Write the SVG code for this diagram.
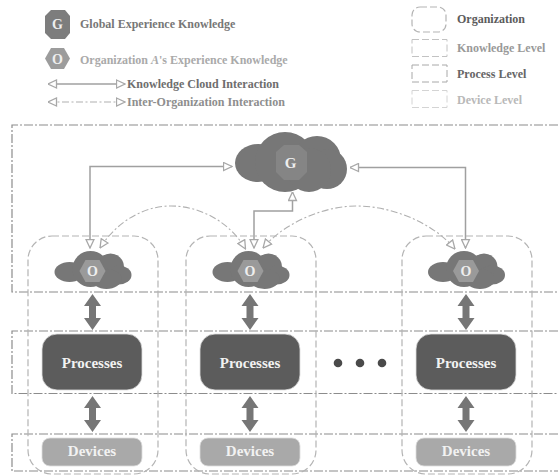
<svg xmlns="http://www.w3.org/2000/svg" width="558" height="475" viewBox="0 0 558 475">
<style>
text{font-family:"Liberation Serif","Times New Roman",serif;font-weight:bold}
.leg{font-size:12px}
.lab{font-size:15px;fill:#f2f2f2;text-anchor:middle}
.sym{font-size:14px;fill:#eee;text-anchor:middle}
.lvl{fill:none;stroke:#8c8c8c;stroke-width:1.2;stroke-dasharray:9 2 2 2}
.org{fill:none;stroke:#b4b4b4;stroke-width:1.2;stroke-dasharray:7 3}
.kc{fill:none;stroke:#a0a0a0;stroke-width:1.5}
.io{fill:none;stroke:#b0b0b0;stroke-width:1.1;stroke-dasharray:7 2.5 2 2.5}
.cl{fill:#777}
.proc{fill:#5c5c5c;stroke:#ddd;stroke-width:.8}
.dev{fill:#a9a9a9;stroke:#ddd;stroke-width:.8}
.dbl{fill:#767676}
</style>
<defs>
<marker id="ah" viewBox="0 0 10 10" refX="9.500" refY="5" markerWidth="10" markerHeight="10" markerUnits="userSpaceOnUse" orient="auto-start-reverse"><path d="M1 1L9.500 5L1 9Z" fill="#fff" stroke="#a8a8a8" stroke-width="1.3"/></marker>
<g id="smallcloud">
<ellipse class="cl" cx="-23" cy="1" rx="15" ry="10"/><circle class="cl" cx="-2" cy="-2" r="18"/><circle class="cl" cx="18" cy="-4" r="13.500"/><ellipse class="cl" cx="26" cy="4" rx="13" ry="9.500"/><ellipse class="cl" cx="14" cy="8" rx="15" ry="10"/>
<path d="M-13 0L-7-11H7L13 0L7 11H-7Z" fill="#9a9a9a"/>
</g>
<path id="dbl" d="M0 0L8.500 12H3.500V24H8.500L0 36L-8.500 24H-3.500V12H-8.500Z"/>
</defs>
<g id="levels">
<path class="lvl" d="M558 125H12V292H558"/>
<path class="lvl" d="M558 331H12V393.500H558"/>
<path class="lvl" d="M558 434H12V471H558"/>
</g>
<g id="legend">
<g id="legend-g"><path d="M51 10H65L70 16V33L65 39H51L45 33V16Z" fill="#7d7d7d"/><text class="sym" x="57.500" y="29">G</text></g>
<text class="leg" x="80" y="28" fill="#777">Global Experience Knowledge</text>
<g id="legend-o"><path d="M45 58.500L51 48H64L70 58.500L64 69H51Z" fill="#9c9c9c"/><text class="sym" x="57.500" y="63.500">O</text></g>
<text class="leg" x="80" y="64" fill="#aaa">Organization <tspan font-style="italic">A</tspan>'s Experience Knowledge</text>
<path class="kc" d="M48 84H125" marker-start="url(#ah)" marker-end="url(#ah)"/>
<text class="leg" x="127" y="88" fill="#6e6e6e">Knowledge Cloud Interaction</text>
<path class="io" d="M48 102H125" marker-start="url(#ah)" marker-end="url(#ah)"/>
<text class="leg" x="127" y="106" fill="#8e8e8e">Inter-Organization Interaction</text>
<rect class="org" x="412" y="7" width="34" height="25" rx="8"/>
<text class="leg" x="457" y="23" fill="#5c5c5c">Organization</text>
<rect x="412" y="39.500" width="35" height="17" fill="none" stroke="#c2c2c2" stroke-dasharray="7 3"/>
<text class="leg" x="457" y="52" fill="#999">Knowledge Level</text>
<rect x="412" y="65" width="35" height="17" fill="none" stroke="#a8a8a8" stroke-dasharray="7 3"/>
<text class="leg" x="457" y="78" fill="#666">Process Level</text>
<rect x="412" y="90.500" width="35" height="17" fill="none" stroke="#d4d4d4" stroke-dasharray="7 3"/>
<text class="leg" x="457" y="104" fill="#b8b8b8">Device Level</text>
</g>
<g id="connectors">
<path class="kc" d="M90 248V166.500H232" marker-start="url(#ah)" marker-end="url(#ah)"/>
<path class="kc" d="M465.500 248V167.500H350" marker-start="url(#ah)" marker-end="url(#ah)"/>
<path class="kc" d="M254 248V211H292.500V192" marker-start="url(#ah)" marker-end="url(#ah)"/>
<path class="io" d="M100 248C118 220 145 206 171 206C200 206 230 222 245.500 249" marker-start="url(#ah)" marker-end="url(#ah)"/>
<path class="io" d="M263 248C285 222 325 206 356 206C395 206 435 225 455 249" marker-start="url(#ah)" marker-end="url(#ah)"/>
<use href="#dbl" class="dbl" x="92.500" y="294"/><use href="#dbl" class="dbl" x="92.500" y="396"/>
<use href="#dbl" class="dbl" x="250" y="294"/><use href="#dbl" class="dbl" x="250" y="396"/>
<use href="#dbl" class="dbl" x="466" y="294"/><use href="#dbl" class="dbl" x="466" y="396"/>
</g>
<g id="global-cloud">
<ellipse class="cl" cx="258" cy="163" rx="23" ry="19"/><circle class="cl" cx="285" cy="162" r="30"/><circle class="cl" cx="317" cy="160" r="24"/><ellipse class="cl" cx="327" cy="169" rx="20" ry="20"/><circle class="cl" cx="309" cy="170" r="22"/>
<path d="M284 145H299L307 152V172L299 180H284L276 172V152Z" fill="#858585"/>
<text x="290.500" y="167.500" text-anchor="middle" font-size="15" fill="#eee">G</text>
</g>
<g id="org-1">
<rect class="org" x="28" y="236" width="130" height="238" rx="24"/>
<use href="#smallcloud" x="92.500" y="271"/><text class="sym" x="92.500" y="276">O</text>
<rect class="proc" x="42" y="334" width="100" height="56" rx="15"/><text class="lab" x="92" y="368">Processes</text>
<rect class="dev" x="42" y="438" width="100" height="28" rx="8"/><text class="lab" x="92" y="456">Devices</text>
</g>
<g id="org-2">
<rect class="org" x="186" y="236" width="130" height="238" rx="24"/>
<use href="#smallcloud" x="250.500" y="271"/><text class="sym" x="250" y="276">O</text>
<rect class="proc" x="200" y="334" width="100" height="56" rx="15"/><text class="lab" x="250" y="368">Processes</text>
<rect class="dev" x="200" y="438" width="100" height="28" rx="8"/><text class="lab" x="250" y="456">Devices</text>
</g>
<g id="org-3">
<rect class="org" x="402" y="236" width="130" height="238" rx="24"/>
<use href="#smallcloud" x="466" y="271"/><text class="sym" x="466" y="276">O</text>
<rect class="proc" x="416" y="334" width="100" height="56" rx="15"/><text class="lab" x="466" y="368">Processes</text>
<rect class="dev" x="416" y="438" width="100" height="28" rx="8"/><text class="lab" x="466" y="456">Devices</text>
</g>
<g id="ellipsis" fill="#4a4a4a"><circle cx="338" cy="363" r="4.300"/><circle cx="360" cy="363" r="4.300"/><circle cx="382" cy="363" r="4.300"/></g>
</svg>
